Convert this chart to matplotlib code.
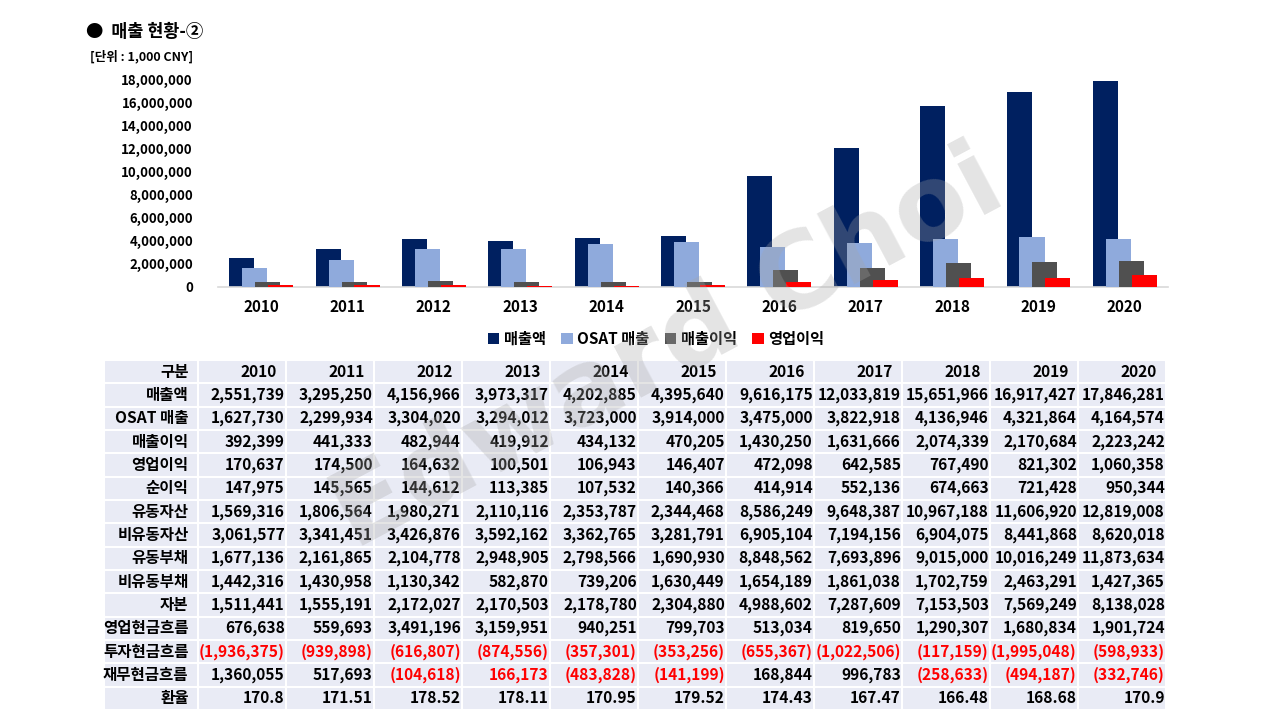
import numpy as np
import matplotlib
matplotlib.use('Agg')
import matplotlib.pyplot as plt

plt.rcParams['font.family'] = ['Noto Sans CJK KR', 'DejaVu Sans']

# data
years = ['2010', '2011', '2012', '2013', '2014', '2015', '2016', '2017', '2018', '2019', '2020']
sales = [2551739, 3295250, 4156966, 3973317, 4202885, 4395640, 9616175, 12033819, 15651966, 16917427, 17846281]
osat_sales = [1627730, 2299934, 3304020, 3294012, 3723000, 3914000, 3475000, 3822918, 4136946, 4321864, 4164574]
gross_profit = [392399, 441333, 482944, 419912, 434132, 470205, 1430250, 1631666, 2074339, 2170684, 2223242]
op_profit = [170637, 174500, 164632, 100501, 106943, 146407, 472098, 642585, 767490, 821302, 1060358]
net_income = [147975, 145565, 144612, 113385, 107532, 140366, 414914, 552136, 674663, 721428, 950344]
cur_assets = [1569316, 1806564, 1980271, 2110116, 2353787, 2344468, 8586249, 9648387, 10967188, 11606920, 12819008]
noncur_assets = [3061577, 3341451, 3426876, 3592162, 3362765, 3281791, 6905104, 7194156, 6904075, 8441868, 8620018]
cur_liab = [1677136, 2161865, 2104778, 2948905, 2798566, 1690930, 8848562, 7693896, 9015000, 10016249, 11873634]
noncur_liab = [1442316, 1430958, 1130342, 582870, 739206, 1630449, 1654189, 1861038, 1702759, 2463291, 1427365]
equity = [1511441, 1555191, 2172027, 2170503, 2178780, 2304880, 4988602, 7287609, 7153503, 7569249, 8138028]
op_cf = [676638, 559693, 3491196, 3159951, 940251, 799703, 513034, 819650, 1290307, 1680834, 1901724]
inv_cf = [-1936375, -939898, -616807, -874556, -357301, -353256, -655367, -1022506, -117159, -1995048, -598933]
fin_cf = [1360055, 517693, -104618, 166173, -483828, -141199, 168844, 996783, -258633, -494187, -332746]
fx_rate = ['170.8', '171.51', '178.52', '178.11', '170.95', '179.52', '174.43', '167.47', '166.48', '168.68', '170.9']

row_labels = ['매출액', 'OSAT 매출', '매출이익', '영업이익', '순이익', '유동자산', '비유동자산',
              '유동부채', '비유동부채', '자본', '영업현금흐름', '투자현금흐름', '재무현금흐름', '환율']
row_values = [sales, osat_sales, gross_profit, op_profit, net_income, cur_assets, noncur_assets,
              cur_liab, noncur_liab, equity, op_cf, inv_cf, fin_cf]
# cells shown in red in the source sheet (besides negatives)
red_cells = [('재무현금흐름', '2013')]

series = [sales, osat_sales, gross_profit, op_profit]
series_names = ['매출액', 'OSAT 매출', '매출이익', '영업이익']
colors = ['#002060', '#8FAADC', '#505050', '#FF0000']


def fmt(v):
    if v < 0:
        return '({:,})'.format(-v)
    return '{:,}'.format(v)


W, H = 1280, 720
fig = plt.figure(figsize=(12.8, 7.2), dpi=100)

# ---- bar chart
ax = fig.add_axes([218 / W, 1 - 287 / H, 950 / W, 208 / H])
x = np.arange(len(years))
bw = 0.29
step = 0.15
for i, (vals, c, name) in enumerate(zip(series, colors, series_names)):
    ax.bar(x + (i - 1.5) * step, vals, width=bw, color=c, label=name, zorder=2 + i)

ax.set_xlim(-0.5, len(years) - 0.5)
ax.set_ylim(0, 18000000)
ax.set_yticks(np.arange(0, 18000001, 2000000))
ax.set_yticklabels(['{:,}'.format(v) for v in range(0, 18000001, 2000000)],
                   fontsize=9.5, fontweight='bold')
ax.set_xticks(x)
ax.set_xticklabels(years, fontsize=11, fontweight='bold')
ax.tick_params(axis='both', length=0)
ax.tick_params(axis='x', pad=9)
ax.tick_params(axis='y', pad=18)
for s in ['top', 'right', 'left']:
    ax.spines[s].set_visible(False)
ax.spines['bottom'].set_color('#D9D9D9')
ax.spines['bottom'].set_linewidth(1.2)

fig.legend(loc='center', bbox_to_anchor=(656 / W, 1 - 339 / H), ncol=4, frameon=False,
           handlelength=0.75, handleheight=0.75, handletextpad=0.3, columnspacing=1.0,
           prop={'size': 11, 'weight': 'bold'})

# ---- titles
fig.text(86 / W, 1 - 32 / H, '●  매출 현황-②', fontsize=12.5, fontweight='bold', va='center')
fig.text(90 / W, 1 - 57 / H, '[단위 : 1,000 CNY]', fontsize=9, fontweight='bold', va='center')

# ---- table
tax = fig.add_axes([104 / W, 1 - 710 / H, 1062 / W, 350 / H])
tax.axis('off')
cell_text = [['구분'] + years]
for lab, vals in zip(row_labels[:-1], row_values):
    cell_text.append([lab] + [fmt(v) for v in vals])
cell_text.append([row_labels[-1]] + fx_rate)

col_w = np.array([94] + [88] * len(years), dtype=float)
col_w = col_w / col_w.sum()
tbl = tax.table(cellText=cell_text, colWidths=col_w, bbox=[0, 0, 1, 1])
tbl.auto_set_font_size(False)
for (r, c), cell in tbl.get_celld().items():
    cell.set_facecolor('#E9EBF5')
    cell.set_edgecolor('white')
    cell.set_linewidth(1.5)
    txt = cell.get_text()
    txt.set_fontsize(11.2)
    txt.set_fontweight('bold')
    if r == 0 or c == 0:
        cell._loc = 'center'
    else:
        cell._loc = 'right'
        cell.PAD = 0.013
        s = txt.get_text()
        lab = row_labels[r - 1]
        if s.startswith('(') or (lab, years[c - 1]) in red_cells:
            txt.set_color('#FF0000')

# ---- watermark
fig.text(668 / W, 1 - 350 / H, 'Edward Choi', fontsize=76, fontweight='bold', color='#A6A6A6',
         alpha=0.3, rotation=28, ha='center', va='center', family='DejaVu Sans', zorder=10)

fig.savefig('out.png', dpi=100)
